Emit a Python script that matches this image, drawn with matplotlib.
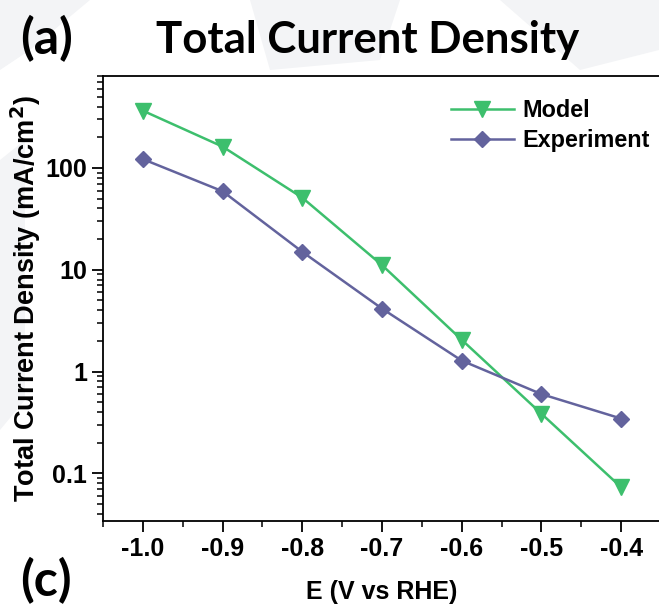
import matplotlib.pyplot as plt
from matplotlib.patches import Polygon
from matplotlib.ticker import LogLocator, NullFormatter, MultipleLocator, FixedFormatter, FixedLocator

# potentials (V vs RHE) and total current density (mA/cm2)
potential = [-1.0, -0.9, -0.8, -0.7, -0.6, -0.5, -0.4]
model = [365, 162, 51, 11.1, 2.05, 0.385, 0.073]
experiment = [122, 59, 15.0, 4.15, 1.28, 0.60, 0.345]

ytick_vals = [0.1, 1, 10, 100]
ytick_labels = ['0.1', '1', '10', '100']
xtick_vals = [-1.0, -0.9, -0.8, -0.7, -0.6, -0.5, -0.4]

green = '#3dbf6d'
purple = '#63639d'

fig = plt.figure(figsize=(6.59, 6.09), dpi=100)

# faint background shapes behind the panel
bg = fig.add_axes([0, 0, 1, 1], zorder=-5)
bg.set_xlim(0, 659)
bg.set_ylim(609, 0)
bg.axis('off')
shapes = [
    [(0, 0), (90, 0), (30, 50), (0, 70)],
    [(250, 0), (400, 0), (380, 60), (270, 70)],
    [(500, 0), (659, 0), (659, 50), (580, 70)],
    [(0, 160), (25, 140), (25, 400), (0, 430)],
]
for pts in shapes:
    bg.add_patch(Polygon(pts, closed=True, facecolor='#f3f4f6', edgecolor='none'))

ax = fig.add_axes([0.1563, 0.1445, 0.8467, 0.7307])
ax.plot(potential, model, color=green, lw=1.8, marker='v', ms=11,
        label='Model')
ax.plot(potential, experiment, color=purple, lw=1.8, marker='D', ms=8,
        label='Experiment')

ax.set_yscale('log')
ax.set_ylim(0.034, 800)
ax.set_xlim(-1.05, -0.35)

ax.yaxis.set_major_locator(FixedLocator(ytick_vals))
ax.yaxis.set_major_formatter(FixedFormatter(ytick_labels))
ax.yaxis.set_minor_locator(LogLocator(base=10, subs=range(2, 10), numticks=20))
ax.yaxis.set_minor_formatter(NullFormatter())
ax.xaxis.set_major_locator(FixedLocator(xtick_vals))
ax.set_xticklabels(['%.1f' % v for v in xtick_vals])
ax.xaxis.set_minor_locator(MultipleLocator(0.05))

for sp in ax.spines.values():
    sp.set_linewidth(1.3)
ax.tick_params(which='major', direction='out', length=8, width=1.3,
               labelsize=18, top=False, right=False)
ax.tick_params(which='minor', direction='out', length=4, width=1.1,
               top=False, right=False)
for lab in ax.get_xticklabels() + ax.get_yticklabels():
    lab.set_fontfamily('Liberation Sans')
    lab.set_fontweight('bold')

ax.set_xlabel('E (V vs RHE)', fontsize=18, fontweight='bold',
              family='Liberation Sans', labelpad=14)
ax.set_ylabel('Total Current Density (mA/cm$^\\mathbf{2}$)', fontsize=19.5,
              fontweight='bold', family='Liberation Sans', labelpad=2)

leg = ax.legend(loc='upper right', bbox_to_anchor=(1.017, 0.995), frameon=False,
                prop={'family': 'Liberation Sans', 'weight': 'bold', 'size': 16.8},
                handlelength=2.7, handletextpad=0.35, labelspacing=0.3)

fig.text(0.558, 0.935, 'Total Current Density', ha='center', va='center',
         fontsize=31.5, fontweight='bold', family='Lato')
fig.text(0.030, 0.937, '(a)', ha='left', va='center', fontsize=36,
         fontweight='bold', family='Lato')
fig.text(0.030, 0.047, '(c)', ha='left', va='center', fontsize=36,
         fontweight='bold', family='Lato')

fig.savefig('out.png', dpi=100)
